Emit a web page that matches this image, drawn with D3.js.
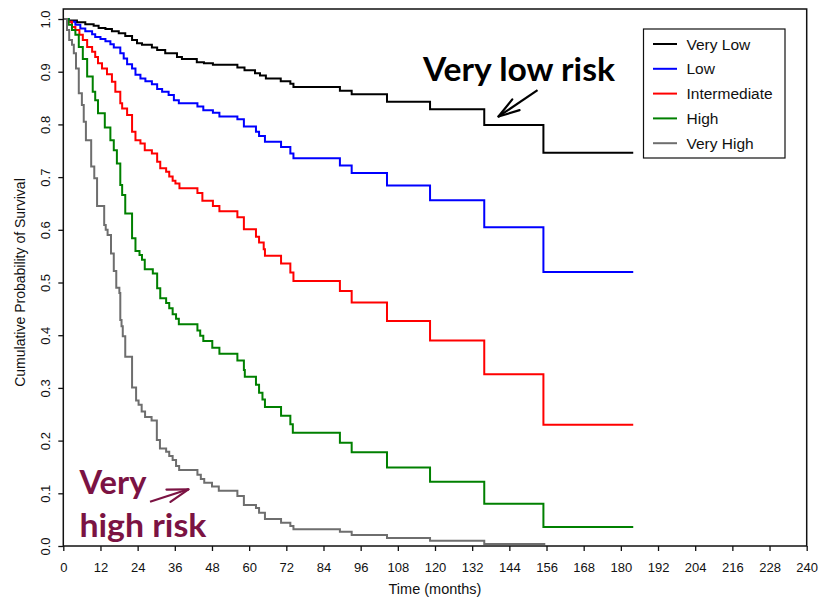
<!DOCTYPE html>
<html>
<head>
<meta charset="utf-8">
<script src="https://cdn.jsdelivr.net/npm/d3@7"></script>
<style>
  body { margin: 0; background: #fff; }
  text { font-family: "Liberation Sans", Arial, sans-serif; }
</style>
</head>
<body>
<svg id="chart" width="819" height="603"></svg>
<script>
// Kaplan-Meier step data [months, survival]
const veryLow = [[0,1],[1.7,0.997],[4.4,0.994],[7.1,0.990],[9.8,0.987],[11.4,0.983],[13.6,0.981],[15.7,0.977],[17.9,0.973],[20,0.968],[22.2,0.960],[23.8,0.954],[25.4,0.951],[28.6,0.946],[30.3,0.941],[32.9,0.935],[36.7,0.928],[38.3,0.924],[43.1,0.918],[45.4,0.916],[48.3,0.913],[56.2,0.908],[58.5,0.903],[61.9,0.897],[63.5,0.893],[65.4,0.887],[70.2,0.882],[73.3,0.877],[74.3,0.871],[89.3,0.864],[93.1,0.857],[104.5,0.843],[118.4,0.829],[135.9,0.799],[155,0.746],[184,0.746]];
const low = [[0,1],[1.7,0.995],[3.9,0.989],[5.5,0.982],[7.1,0.977],[9.3,0.971],[10.3,0.966],[12,0.962],[13.6,0.958],[15.2,0.952],[16.3,0.946],[18.4,0.935],[19.5,0.925],[20.6,0.914],[22.2,0.906],[23.3,0.894],[24.9,0.887],[26.5,0.882],[28.6,0.876],[30.3,0.867],[31.9,0.862],[34,0.856],[35.7,0.846],[37.3,0.840],[43.3,0.834],[45.2,0.827],[48.3,0.822],[50.4,0.815],[56.2,0.810],[58.3,0.796],[62.2,0.786],[63.2,0.778],[65.1,0.767],[70.3,0.757],[73.3,0.745],[74.3,0.736],[89.3,0.722],[93.1,0.708],[104.5,0.684],[118.4,0.656],[135.9,0.605],[155,0.520],[184,0.520]];
const intermediate = [[0,1],[1.5,0.995],[2.8,0.985],[3.9,0.979],[5.2,0.970],[6.3,0.960],[7.7,0.947],[9.3,0.938],[10.3,0.928],[11.2,0.916],[12.5,0.906],[14.1,0.895],[15.7,0.881],[16.8,0.862],[18.4,0.840],[19,0.830],[20.6,0.818],[22.2,0.786],[23.3,0.770],[24.9,0.764],[26.3,0.751],[28.6,0.745],[30.3,0.729],[31.3,0.717],[33.2,0.710],[34.2,0.701],[35.3,0.693],[36.2,0.688],[37.5,0.679],[43.3,0.670],[44.9,0.655],[48.3,0.645],[50.4,0.635],[56.2,0.624],[58.3,0.601],[62.2,0.587],[63.2,0.576],[64.7,0.563],[65.1,0.551],[70.3,0.536],[73.3,0.519],[74.3,0.503],[89.3,0.484],[93.1,0.462],[104.5,0.427],[118.4,0.390],[135.9,0.326],[155,0.230],[184,0.230]];
const high = [[0,1],[1.7,0.989],[2.8,0.979],[3.9,0.970],[5,0.947],[6.3,0.924],[7.7,0.891],[9.5,0.862],[10.3,0.846],[11.2,0.821],[13.4,0.794],[15.2,0.770],[16.3,0.751],[17.3,0.726],[18.4,0.685],[19,0.666],[20,0.631],[22.2,0.584],[23.3,0.560],[24.6,0.552],[25.4,0.543],[26.3,0.525],[28.9,0.517],[30.3,0.489],[31.3,0.470],[33.2,0.461],[34.2,0.451],[35.3,0.440],[36.4,0.431],[37.3,0.421],[43.3,0.409],[44.2,0.399],[45.2,0.389],[48.1,0.376],[50.4,0.365],[56.2,0.352],[58.3,0.334],[58.6,0.321],[62.2,0.306],[63.2,0.291],[64.3,0.278],[65.1,0.264],[70.3,0.247],[73.3,0.231],[74.1,0.215],[89.3,0.196],[93.1,0.178],[104.5,0.149],[118.4,0.122],[135.9,0.080],[155,0.036],[184,0.036]];
const veryHigh = [[0,1],[1.2,0.979],[1.9,0.960],[2.8,0.951],[3.4,0.935],[4.1,0.906],[5,0.859],[6,0.837],[6.6,0.805],[7.3,0.770],[9,0.720],[10,0.698],[10.9,0.645],[13.2,0.609],[13.7,0.600],[14.3,0.590],[15.4,0.555],[16.3,0.522],[17.1,0.490],[18.1,0.480],[18.4,0.429],[18.8,0.417],[19.2,0.398],[20,0.359],[22.2,0.301],[23.5,0.276],[24.3,0.268],[25.3,0.255],[26.4,0.245],[28.5,0.238],[30.2,0.201],[31.2,0.185],[33.2,0.179],[34.2,0.171],[35.3,0.163],[36.4,0.152],[37.4,0.144],[43.3,0.135],[44.4,0.127],[45.5,0.120],[48,0.113],[50.2,0.105],[56.2,0.095],[58.3,0.078],[62.2,0.072],[63.2,0.063],[65.1,0.051],[70.3,0.044],[73.3,0.038],[74.3,0.032],[89.3,0.027],[93.1,0.021],[104.5,0.015],[118.4,0.010],[135.9,0.004],[155.6,0.004]];

const groupNames = ["Very Low", "Low", "Intermediate", "High", "Very High"];
const groupColors = ["#000000", "#0000ff", "#ff0000", "#008000", "#6e6e6e"];
const xTicks = d3.range(0, 241, 12);
const yTicks = d3.range(0, 11).map(d => d / 10);

const svg = d3.select("#chart");

// plot area
let x = d3.scaleLinear().domain([0, 240]).range([63.3, 806.7]);
let y = d3.scaleLinear().domain([0, 1.019]).range([546, 9]);

// axes
let xAxis = svg.append("g")
  .attr("transform", "translate(0,546)")
  .call(d3.axisBottom(x).tickValues(xTicks).tickSize(5).tickPadding(12).tickSizeOuter(0));
xAxis.select(".domain").remove();
xAxis.selectAll("text").attr("font-size", 13).attr("fill", "#111");
xAxis.selectAll("line").attr("stroke", "#111").attr("stroke-width", 1.3);

let yAxis = svg.append("g")
  .attr("transform", "translate(63.3,0)")
  .call(d3.axisLeft(y).tickValues(yTicks).tickFormat(d3.format(".1f")).tickSize(5).tickSizeOuter(0));
yAxis.select(".domain").remove();
yAxis.selectAll("line").attr("stroke", "#111").attr("stroke-width", 1.3);
yAxis.selectAll("text")
  .attr("font-size", 13)
  .attr("fill", "#111")
  .attr("text-anchor", "middle")
  .attr("transform", "rotate(-90)")
  .attr("x", 0)
  .attr("y", -13)
  .attr("dy", 0);

// axis titles
svg.append("text")
  .attr("x", 435).attr("y", 594)
  .attr("text-anchor", "middle")
  .attr("font-size", 14.5)
  .attr("fill", "#111")
  .text("Time (months)");

svg.append("text")
  .attr("transform", "translate(25," + y(0.5) + ") rotate(-90)")
  .attr("text-anchor", "middle")
  .attr("font-size", 14)
  .attr("fill", "#111")
  .text("Cumulative Probability of Survival");

// survival curves
const series = [veryLow, low, intermediate, high, veryHigh];
let line = d3.line()
  .x(d => x(d[0]))
  .y(d => y(d[1]))
  .curve(d3.curveStepAfter);

svg.selectAll(".km")
  .data(series)
  .enter().append("path")
  .attr("class", "km")
  .attr("fill", "none")
  .attr("stroke", (d, i) => groupColors[i])
  .attr("stroke-width", 2)
  .attr("d", line);

// frame
svg.append("rect")
  .attr("x", x(0)).attr("y", 9)
  .attr("width", x(240) - x(0)).attr("height", 546 - 9)
  .attr("fill", "none")
  .attr("stroke", "#111")
  .attr("stroke-width", 1.5);

// legend
let legend = svg.append("g");
legend.append("rect")
  .attr("x", 643.5).attr("y", 29)
  .attr("width", 141.5).attr("height", 129)
  .attr("fill", "#fff")
  .attr("stroke", "#111")
  .attr("stroke-width", 1.2);

let items = legend.selectAll(".item")
  .data(groupNames)
  .enter().append("g")
  .attr("class", "item")
  .attr("transform", (d, i) => "translate(0," + (44 + i * 24.8) + ")");
items.append("line")
  .attr("x1", 653).attr("x2", 677)
  .attr("stroke", (d, i) => groupColors[i])
  .attr("stroke-width", 2);
items.append("text")
  .attr("x", 686.5).attr("dy", "0.36em")
  .attr("font-size", 15.5)
  .attr("fill", "#111")
  .text(d => d);

// annotations
function arrow(g, x0, y0, x1, y1, color) {
  let ang = Math.atan2(y1 - y0, x1 - x0);
  let len = 22, spread = 0.3;
  g.append("line")
    .attr("x1", x0).attr("y1", y0).attr("x2", x1).attr("y2", y1)
    .attr("stroke", color).attr("stroke-width", 2.2);
  [-spread, spread].forEach(s => {
    g.append("line")
      .attr("x1", x1).attr("y1", y1)
      .attr("x2", x1 - len * Math.cos(ang + s))
      .attr("y2", y1 - len * Math.sin(ang + s))
      .attr("stroke", color).attr("stroke-width", 2.2)
      .attr("stroke-linecap", "round");
  });
}

let notes = svg.append("g").attr("font-family", "Lato, 'Open Sans', sans-serif").attr("font-weight", 700);
notes.append("text")
  .attr("x", x(116.1)).attr("y", y(0.883))
  .attr("font-size", 33)
  .attr("fill", "#000")
  .attr("textLength", 192)
  .attr("lengthAdjust", "spacingAndGlyphs")
  .style("font-family", "Lato, 'Open Sans', sans-serif")
  .text("Very low risk");
arrow(notes, x(153.1), y(0.865), x(140.5), y(0.815), "#000");

const maroon = "#7b1343";
notes.append("text")
  .attr("x", x(5.2)).attr("y", y(0.0987))
  .attr("font-size", 33)
  .attr("fill", maroon)
  .attr("textLength", 67)
  .attr("lengthAdjust", "spacingAndGlyphs")
  .style("font-family", "Lato, 'Open Sans', sans-serif")
  .text("Very");
notes.append("text")
  .attr("x", x(5.2)).attr("y", y(0.0176))
  .attr("font-size", 33)
  .attr("fill", maroon)
  .attr("textLength", 127)
  .attr("lengthAdjust", "spacingAndGlyphs")
  .style("font-family", "Lato, 'Open Sans', sans-serif")
  .text("high risk");
arrow(notes, x(28.0), y(0.084), x(40.4), y(0.1076), maroon);
</script>
</body>
</html>
